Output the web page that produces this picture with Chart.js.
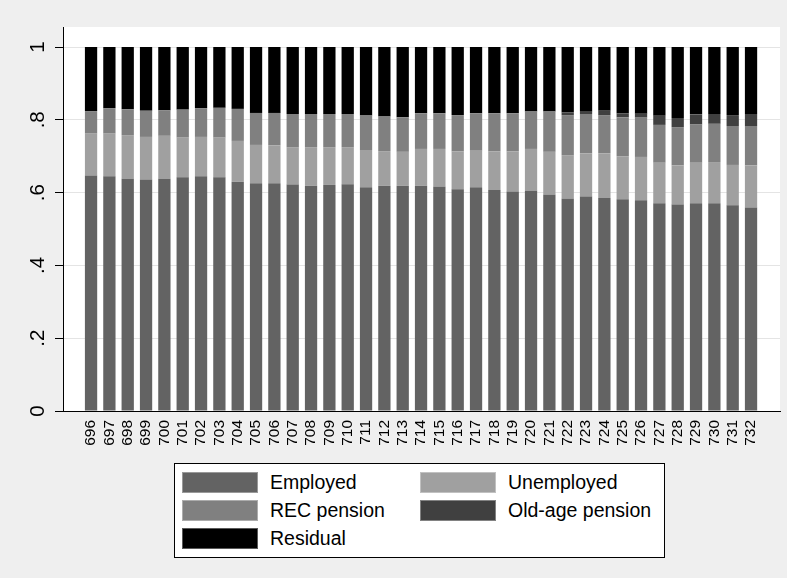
<!DOCTYPE html>
<html>
<head>
<meta charset="utf-8">
<script src="https://cdn.jsdelivr.net/npm/chart.js@4/dist/chart.umd.min.js"></script>
<style>
    body { margin: 0; background: #efefef; }
    #wrap { position: relative; width: 787px; height: 578px; }
    #legend {
        position: absolute; left: 174px; top: 463px; width: 491px; height: 95px;
        box-sizing: border-box; border: 1px solid #000; background: #fff;
        padding: 8px 0 0 7px;
        display: grid; grid-template-columns: 238px 238px; grid-auto-rows: 28px;
        font-family: "Liberation Sans", Arial, sans-serif; font-size: 19.5px; color: #000;
    }
    .legend-item { display: flex; align-items: flex-start; }
    .legend-swatch { width: 76px; height: 21px; box-sizing: border-box; border: 1px solid rgba(255,255,255,0.35); margin-right: 12px; }
    .legend-text { line-height: 21px; }
</style>
</head>
<body>
<div id="wrap">
    <canvas id="chart" width="787" height="578"></canvas>
    <div id="legend"></div>
</div>
<script>
const years = [696, 697, 698, 699, 700, 701, 702, 703, 704, 705, 706, 707, 708, 709, 710, 711, 712, 713, 714,
    715, 716, 717, 718, 719, 720, 721, 722, 723, 724, 725, 726, 727, 728, 729, 730, 731, 732];

const employed = [.647, .645, .638, .636, .638, .642, .645, .642, .630, .626, .626, .622, .619, .621, .623, .615, .619, .619, .619,
    .617, .609, .615, .607, .603, .605, .595, .584, .589, .585, .582, .579, .571, .567, .571, .571, .565, .559];
const unemployed = [.115, .117, .120, .117, .118, .109, .108, .109, .112, .105, .104, .103, .106, .104, .102, .102, .095, .093, .101,
    .103, .104, .100, .106, .110, .115, .117, .119, .119, .123, .118, .119, .111, .108, .111, .113, .111, .116];
const recPension = [.062, .070, .071, .072, .070, .077, .079, .082, .088, .088, .089, .091, .091, .091, .091, .095, .095, .095, .098,
    .098, .100, .103, .105, .105, .103, .111, .110, .108, .105, .107, .108, .104, .105, .105, .105, .107, .108];
const oldAgePension = [0, 0, 0, 0, 0, 0, 0, 0, 0, 0, 0, 0, 0, 0, 0, 0, 0, 0, 0,
    0, 0, 0, 0, 0, 0, 0, .007, .006, .012, .011, .011, .025, .025, .028, .027, .030, .033];
const residual = [.176, .168, .171, .175, .174, .172, .168, .167, .170, .181, .181, .184, .184, .184, .184, .188, .191, .193, .182,
    .182, .187, .182, .182, .182, .177, .177, .180, .178, .175, .182, .183, .189, .195, .185, .184, .187, .184];

const yTickValues = [0, .2, .4, .6, .8, 1];
const yTickLabels = ['0', '.2', '.4', '.6', '.8', '1'];

const fontFamily = '"Liberation Sans", Arial, sans-serif';
Chart.defaults.font.family = fontFamily;
Chart.defaults.color = '#000';

function series(label, values, color) {
    return {
        label,
        data: years.map((y, i) => ({ x: y, y: values[i] })),
        backgroundColor: color,
        borderWidth: 0,
        barPercentage: 1,
        categoryPercentage: 0.67
    };
}

const plotBackground = {
    id: 'plotBackground',
    beforeDraw(chart) {
        const { ctx, chartArea: a } = chart;
        ctx.save();
        ctx.fillStyle = '#fff';
        ctx.fillRect(a.left, a.top, a.right - a.left, a.bottom - a.top);
        ctx.restore();
    }
};

const chart = new Chart(document.getElementById('chart'), {
    type: 'bar',
    data: {
        datasets: [
            series('Employed', employed, '#636363'),
            series('Unemployed', unemployed, '#a0a0a0'),
            series('REC pension', recPension, '#808080'),
            series('Old-age pension', oldAgePension, '#404040'),
            series('Residual', residual, '#000000')
        ]
    },
    options: {
        responsive: false,
        animation: false,
        layout: { padding: { top: 27, right: 7, bottom: 0, left: 0 } },
        plugins: { legend: { display: false }, tooltip: { enabled: false } },
        scales: {
            x: {
                type: 'linear',
                stacked: true,
                bounds: 'data',
                offset: false,
                min: 694.47,
                max: 733.58,
                afterBuildTicks: s => { s.ticks = years.map(v => ({ value: v })); },
                afterFit: s => { s.height = 167; },
                ticks: {
                    autoSkip: false, minRotation: 90, maxRotation: 90, padding: 9,
                    font: { size: 15.5 }, callback: v => String(v)
                },
                grid: { display: true, drawOnChartArea: false, drawTicks: false, offset: false },
                border: { display: true, color: '#000', width: 1 }
            },
            y: {
                stacked: true,
                bounds: 'data',
                min: 0,
                max: 1.055,
                afterBuildTicks: s => { s.ticks = yTickValues.map(v => ({ value: v })); },
                afterFit: s => { s.width = 63; },
                ticks: {
                    minRotation: 90, maxRotation: 90, crossAlign: 'center', padding: 8,
                    font: { size: 20.5 }, callback: v => yTickLabels[yTickValues.indexOf(v)]
                },
                grid: { color: '#e4e4e4', lineWidth: 1, tickLength: 8, tickColor: '#000', tickWidth: 1 },
                border: { display: true, color: '#000', width: 1 }
            }
        }
    },
    plugins: [plotBackground]
});

const legendBox = document.getElementById('legend');
chart.data.datasets.forEach(ds => {
    const item = document.createElement('div');
    item.className = 'legend-item';
    item.innerHTML = `<span class="legend-swatch" style="background:${ds.backgroundColor}"></span><span class="legend-text">${ds.label}</span>`;
    legendBox.appendChild(item);
});
</script>
</body>
</html>
